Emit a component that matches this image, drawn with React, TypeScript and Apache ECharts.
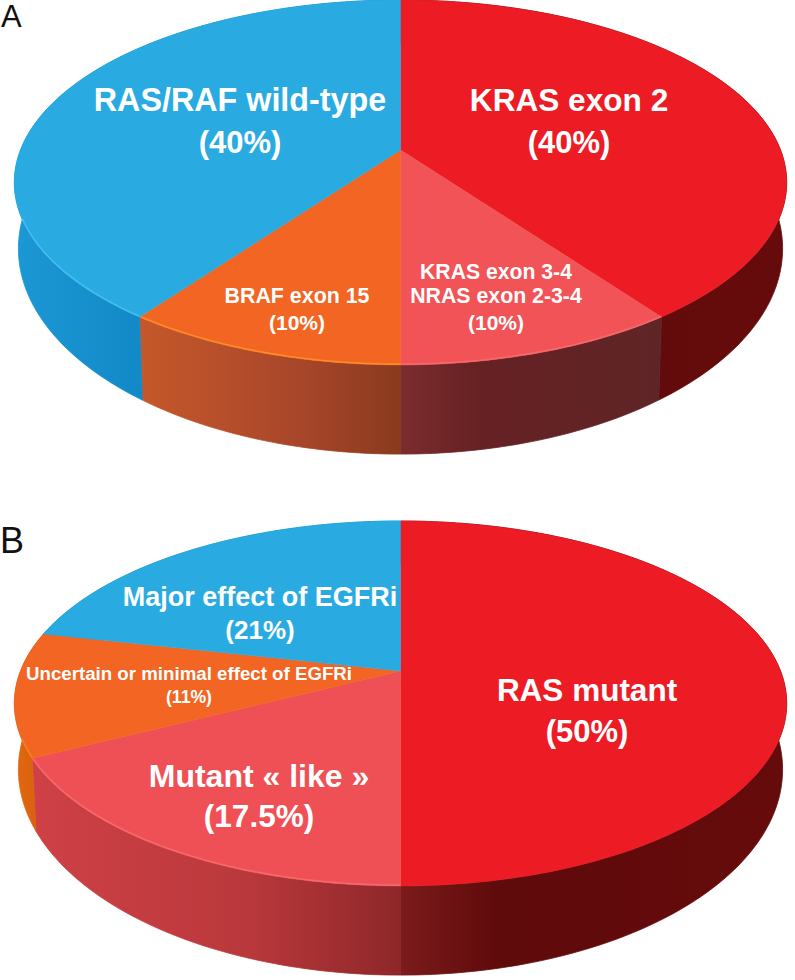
import React, { useEffect, useRef } from "react";
import * as echarts from "echarts";

// ---- data ----
const pieANames = ["KRAS exon 2", "KRAS exon 3-4 / NRAS exon 2-3-4", "BRAF exon 15", "RAS/RAF wild-type"];
const pieAValues = [40, 10, 10, 40];
const pieBNames = ["RAS mutant", "Mutant « like »", "Uncertain or minimal effect of EGFRi", "Major effect of EGFRi"];
const pieBValues = [50, 17.5, 11, 21.5];

const panelLabels = ["A", "B"];
const pieATexts = [
  ["RAS/RAF wild-type", "(40%)"],
  ["KRAS exon 2", "(40%)"],
  ["BRAF exon 15", "(10%)"],
  ["KRAS exon 3-4", "NRAS exon 2-3-4", "(10%)"],
];
const pieBTexts = [
  ["Major effect of EGFRi", "(21%)"],
  ["Uncertain or minimal effect of EGFRi", "(11%)"],
  ["Mutant « like »", "(17.5%)"],
  ["RAS mutant", "(50%)"],
];

// ---- styles and layout ----
const FONT = '"Liberation Sans", Arial, sans-serif';
const GEO = { cx: 400.5, R: 380, H: 176.7, k: 0.178, R2: 376, H2: 199, dy2: 62 };
const pieAApexY = 150;
const pieBApexY = 671;

type SliceStyle = { top: string; rim: string | null; wall: [number, string][]; };
const RED: SliceStyle = { top: "#ed1c24", rim: null, wall: [[400, "#7c1b1b"], [500, "#5f0a0b"], [790, "#660b0c"]] };
const BLUE: SliceStyle = { top: "#29abe2", rim: "#45bcf0", wall: [[20, "#1b97d4"], [150, "#1288c6"]] };
const pieAStyles: SliceStyle[] = [
  RED,
  { top: "#f15357", rim: "#f4696c", wall: [[400, "#7c2c2e"], [480, "#662123"], [660, "#5f2526"]] },
  { top: "#f26522", rim: "#fb8c26", wall: [[140, "#c5582a"], [300, "#a8462a"], [400, "#8a3a1e"]] },
  BLUE,
];
const pieBStyles: SliceStyle[] = [
  RED,
  { top: "#ef5055", rim: "#f4696c", wall: [[30, "#cf4146"], [250, "#b9383b"], [400, "#8e2729"]] },
  { top: "#f26522", rim: "#f6811f", wall: [[15, "#e2680f"], [40, "#d8600f"]] },
  BLUE,
];

type TextItem = { lines: string[]; x: number; y: number; size: number[]; gap: number[] };
const pieATextLayout: Omit<TextItem, "lines">[] = [
  { x: 240, y: 100, size: [32.3, 31], gap: [0, 42] },
  { x: 569, y: 100, size: [31.6, 31], gap: [0, 42] },
  { x: 297, y: 296, size: [21.4, 21], gap: [0, 26] },
  { x: 496, y: 271, size: [21.2, 21.3, 21], gap: [0, 25, 51] },
];
const pieBTextLayout: Omit<TextItem, "lines">[] = [
  { x: 260, y: 597, size: [27, 26], gap: [0, 33] },
  { x: 189, y: 673, size: [18.7, 17.6], gap: [0, 24] },
  { x: 259, y: 776, size: [32, 31.5], gap: [0, 40] },
  { x: 587, y: 690, size: [31.5, 31], gap: [0, 41] },
];
const panelLabelLayout = [
  { x: 1, y: 16, size: 31 },
  { x: 0, y: 540, size: 36 },
];

// ---- geometry ----
const topPt = (th: number, apex: number): [number, number] => {
  const w = 1 + GEO.k * Math.cos(th);
  return [GEO.cx + (GEO.R * Math.sin(th)) / w, apex - (GEO.H * Math.cos(th)) / w];
};
const basePt = (th: number, apex: number): [number, number] => {
  const w = 1 + GEO.k * Math.cos(th);
  return [GEO.cx + (GEO.R2 * Math.sin(th)) / w, apex + GEO.dy2 - (GEO.H2 * Math.cos(th)) / w];
};
const arc = (a: number, b: number, fn: (t: number) => [number, number]) => {
  const n = Math.max(2, Math.ceil(((b - a) * 180) / Math.PI));
  const pts: [number, number][] = [];
  for (let i = 0; i <= n; i++) pts.push(fn(a + ((b - a) * i) / n));
  return pts;
};
const spans = (values: number[]) => {
  const total = values.reduce((s, v) => s + v, 0);
  let acc = 0;
  return values.map((v) => {
    const row = [acc / total, (acc + v) / total, v];
    acc += v;
    return row;
  });
};

const wallSeries = (values: number[], styles: SliceStyle[], apex: number, name: string) => ({
  type: "custom",
  name,
  coordinateSystem: "none",
  silent: true,
  z: 1,
  data: spans(values),
  renderItem: (params: any, api: any) => {
    const a = api.value(0) * 2 * Math.PI;
    const b = api.value(1) * 2 * Math.PI;
    const st = styles[params.dataIndex];
    const x0 = st.wall[0][0];
    const x1 = st.wall[st.wall.length - 1][0];
    const points = [
      ...arc(a, b, (t) => topPt(t, apex)),
      ...arc(a, b, (t) => basePt(t, apex)).reverse(),
    ];
    const gradient = {
      type: "linear",
      global: true,
      x: x0,
      y: 0,
      x2: x1,
      y2: 0,
      colorStops: st.wall.map(([x, color]) => ({ offset: (x - x0) / (x1 - x0), color })),
    };
    return {
      type: "polygon",
      shape: { points },
      style: { fill: gradient, stroke: gradient, lineWidth: 0.8 },
    };
  },
});

const topSeries = (values: number[], styles: SliceStyle[], apex: number, name: string) => ({
  type: "custom",
  name,
  coordinateSystem: "none",
  silent: true,
  z: 2,
  data: spans(values),
  renderItem: (params: any, api: any) => {
    const a = api.value(0) * 2 * Math.PI;
    const b = api.value(1) * 2 * Math.PI;
    const st = styles[params.dataIndex];
    const points = [[GEO.cx, apex], ...arc(a, b, (t) => topPt(t, apex))];
    const children: any[] = [
      {
        type: "polygon",
        shape: { points },
        style: { fill: st.top, stroke: st.top, lineWidth: 0.5 },
      },
    ];
    const fa = Math.max(a, Math.PI * 0.62);
    const fb = Math.min(b, Math.PI * 1.38);
    if (st.rim && fb > fa) {
      children.push({
        type: "polyline",
        shape: {
          points: arc(fa, fb, (t) => {
            const p = topPt(t, apex);
            return [p[0], p[1] - 0.8];
          }),
        },
        style: { fill: null, stroke: st.rim, lineWidth: 1.6 },
      });
    }
    return { type: "group", children };
  },
});

const textEls = (texts: string[][], layout: Omit<TextItem, "lines">[]) =>
  texts.flatMap((lines, i) =>
    lines.map((line, j) => ({
      type: "text",
      x: layout[i].x,
      y: layout[i].y + layout[i].gap[j],
      z: 10,
      silent: true,
      style: {
        text: line,
        fill: "#ffffff",
        font: `bold ${layout[i].size[j]}px ${FONT}`,
        align: "center",
        verticalAlign: "middle",
      },
    }))
  );

export default function App() {
  const ref = useRef<HTMLDivElement>(null);
  useEffect(() => {
    const chart = echarts.init(ref.current!, undefined, { renderer: "svg", width: 795, height: 980 });
    chart.setOption({
      animation: false,
      backgroundColor: "#ffffff",
      series: [
        wallSeries(pieAValues, pieAStyles, pieAApexY, "A side"),
        topSeries(pieAValues, pieAStyles, pieAApexY, "A: " + pieANames.join(", ")),
        wallSeries(pieBValues, pieBStyles, pieBApexY, "B side"),
        topSeries(pieBValues, pieBStyles, pieBApexY, "B: " + pieBNames.join(", ")),
      ],
      graphic: {
        elements: [
          ...textEls(pieATexts, pieATextLayout),
          ...textEls(pieBTexts, pieBTextLayout),
          ...panelLabels.map((t, i) => ({
            type: "text",
            x: panelLabelLayout[i].x,
            y: panelLabelLayout[i].y,
            z: 10,
            silent: true,
            style: {
              text: t,
              fill: "#111111",
              font: `${panelLabelLayout[i].size}px ${FONT}`,
              align: "left",
              verticalAlign: "middle",
            },
          })),
        ],
      },
    });
    return () => chart.dispose();
  }, []);
  return <div ref={ref} style={{ position: "absolute", left: 0, top: 0, width: 795, height: 980 }} />;
}
